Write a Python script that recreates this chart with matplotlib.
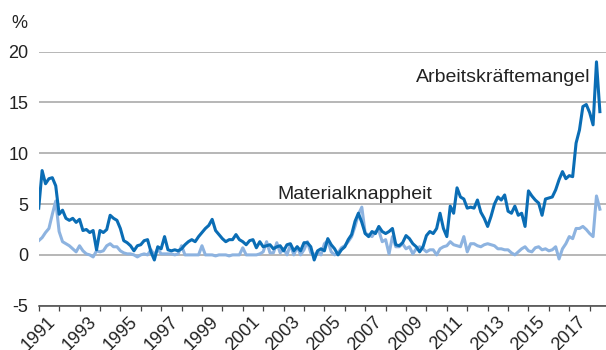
import matplotlib
matplotlib.use('Agg')
import matplotlib.pyplot as plt
import numpy as np

plt.rcParams['font.family'] = ['Liberation Sans', 'DejaVu Sans']

# Bi-monthly readings, Jan 1991 to Jul 2018 (six values per year)
arbeitskraefte = [
    4.6, 8.3, 7.0, 7.5, 7.6, 6.8,      # 1991
    4.0, 4.4, 3.6, 3.4, 3.6, 3.2,      # 1992
    3.5, 2.4, 2.5, 2.2, 2.4, 0.5,      # 1993
    2.4, 2.2, 2.5, 3.9, 3.6, 3.4,      # 1994
    2.6, 1.4, 1.2, 0.9, 0.4, 0.9,      # 1995
    1.0, 1.4, 1.5, 0.3, -0.5, 0.8,     # 1996
    0.6, 1.8, 0.5, 0.4, 0.5, 0.4,      # 1997
    0.6, 1.0, 1.3, 1.5, 1.3, 1.8,      # 1998
    2.2, 2.6, 2.9, 3.5, 2.4, 2.0,      # 1999
    1.6, 1.3, 1.5, 1.5, 2.0, 1.5,      # 2000
    1.3, 1.0, 1.4, 1.5, 0.7, 1.3,      # 2001
    0.8, 0.9, 1.0, 0.6, 0.8, 0.9,      # 2002
    0.4, 1.0, 1.1, 0.4, 0.8, 0.4,      # 2003
    1.2, 1.2, 0.8, -0.5, 0.4, 0.6,     # 2004
    0.4, 1.6, 1.0, 0.6, 0.0, 0.5,      # 2005
    0.8, 1.5, 2.0, 3.3, 4.1, 3.2,      # 2006
    2.1, 1.8, 2.3, 2.1, 2.8, 2.3,      # 2007
    2.1, 2.3, 2.6, 1.0, 0.9, 1.2,      # 2008
    1.9, 1.6, 1.1, 0.8, 0.3, 0.8,      # 2009
    1.9, 2.3, 2.1, 2.6, 4.1, 2.6,      # 2010
    1.8, 4.8, 4.1, 6.6, 5.7, 5.5,      # 2011
    4.6, 4.7, 4.6, 5.4, 4.2, 3.6,      # 2012
    2.8, 3.8, 5.0, 5.7, 5.4, 5.9,      # 2013
    4.3, 4.1, 4.8, 3.9, 4.1, 2.8,      # 2014
    6.3, 5.8, 5.4, 5.1, 3.9, 5.5,      # 2015
    5.6, 5.7, 6.4, 7.4, 8.2, 7.5,      # 2016
    7.8, 7.7, 11.0, 12.3, 14.6, 14.8,  # 2017
    14.0, 12.8, 19.0, 14.1,            # 2018
]

material = [
    1.4, 1.7, 2.2, 2.6, 4.0, 5.3,      # 1991
    2.3, 1.3, 1.1, 0.9, 0.6, 0.3,      # 1992
    0.9, 0.4, 0.1, 0.0, -0.2, 0.4,     # 1993
    0.3, 0.4, 0.9, 1.1, 0.8, 0.8,      # 1994
    0.4, 0.2, 0.1, 0.1, 0.0, -0.2,     # 1995
    0.0, 0.1, 0.0, 0.5, 0.0, 0.6,      # 1996
    0.1, 0.1, 0.1, 0.1, 0.0, 0.1,      # 1997
    0.9, 0.0, 0.0, 0.0, 0.0, 0.0,      # 1998
    0.9, 0.0, 0.0, 0.0, -0.1, 0.0,     # 1999
    0.0, 0.0, -0.1, 0.0, 0.0, 0.0,     # 2000
    0.7, 0.0, 0.0, 0.0, 0.0, 0.1,      # 2001
    0.3, 1.3, 0.2, 0.2, 1.2, 0.2,      # 2002
    0.6, 0.0, 1.0, 0.0, 0.8, 0.0,      # 2003
    0.5, 1.3, 0.2, 0.0, 0.3, 0.0,      # 2004
    1.1, 1.4, 0.3, 0.0, 0.2, 0.7,      # 2005
    0.9, 1.3, 1.8, 2.8, 4.0, 4.7,      # 2006
    2.1, 2.0, 1.8, 2.3, 2.4, 1.3,      # 2007
    1.5, 0.1, 1.8, 0.8, 0.8, 1.1,      # 2008
    0.6, 0.8, 0.1, 0.6, 0.8, 0.6,      # 2009
    0.3, 0.5, 0.5, 0.0, 0.6, 0.8,      # 2010
    0.9, 1.3, 1.0, 0.9, 0.8, 1.8,      # 2011
    0.3, 1.1, 1.1, 0.9, 0.8, 1.0,      # 2012
    1.1, 1.0, 0.9, 0.6, 0.6, 0.5,      # 2013
    0.5, 0.2, 0.0, 0.3, 0.6, 0.8,      # 2014
    0.4, 0.3, 0.7, 0.8, 0.5, 0.6,      # 2015
    0.4, 0.5, 0.8, -0.4, 0.6, 1.1,     # 2016
    1.8, 1.6, 2.6, 2.6, 2.8, 2.5,      # 2017
    2.1, 1.8, 5.8, 4.5,                # 2018
]

start_year = 1991
periods_per_year = 6
years = start_year + np.arange(len(arbeitskraefte)) / periods_per_year

y_ticks = [-5, 0, 5, 10, 15, 20]
label_years = list(range(1991, 2018, 2))
all_years = list(range(1991, 2019))

dark_blue = '#0a6db5'
light_blue = '#8db3e0'
text_col = '#222222'

fig = plt.figure(figsize=(6.06, 3.5), dpi=100)
ax = fig.add_axes([0.0639, 0.1266, 0.9361, 0.7257])

ax.plot(years, material, color=light_blue, lw=2.2, solid_joinstyle='round', zorder=3)
ax.plot(years, arbeitskraefte, color=dark_blue, lw=2.2, solid_joinstyle='round', zorder=4)

ax.set_xlim(1991, 2018.8)
ax.set_ylim(-5, 20)

ax.set_yticks(y_ticks)
ax.set_yticklabels([str(v) for v in y_ticks])
ax.yaxis.grid(True, color='#a3a3a3', lw=1.1, zorder=1)
ax.set_axisbelow(True)

ax.set_xticks(label_years)
ax.set_xticklabels([str(y) for y in label_years])
ax.set_xticks(all_years, minor=True)
ax.tick_params(axis='x', which='both', direction='out', length=3.5, width=0.9,
               color='#444444')
ax.tick_params(axis='x', which='major', labelsize=13, pad=2,
               labelrotation=45, labelcolor=text_col)
for lbl in ax.get_xticklabels():
    lbl.set_ha('center')
ax.tick_params(axis='y', length=0, labelsize=13, pad=7.5, labelcolor=text_col)

for side in ['top', 'right', 'left']:
    ax.spines[side].set_visible(False)
ax.spines['bottom'].set_color('#444444')
ax.spines['bottom'].set_linewidth(1.1)

ax.text(2018.02, 17.0, 'Arbeitskräftemangel', ha='right', va='baseline',
        fontsize=14, color=text_col)
ax.text(2010.28, 5.5, 'Materialknappheit', ha='right', va='baseline',
        fontsize=14, color=text_col)
fig.text(0.0446, 0.92, '%', ha='right', va='baseline', fontsize=13, color=text_col)

fig.savefig('out.png', dpi=100)
plt.close(fig)
